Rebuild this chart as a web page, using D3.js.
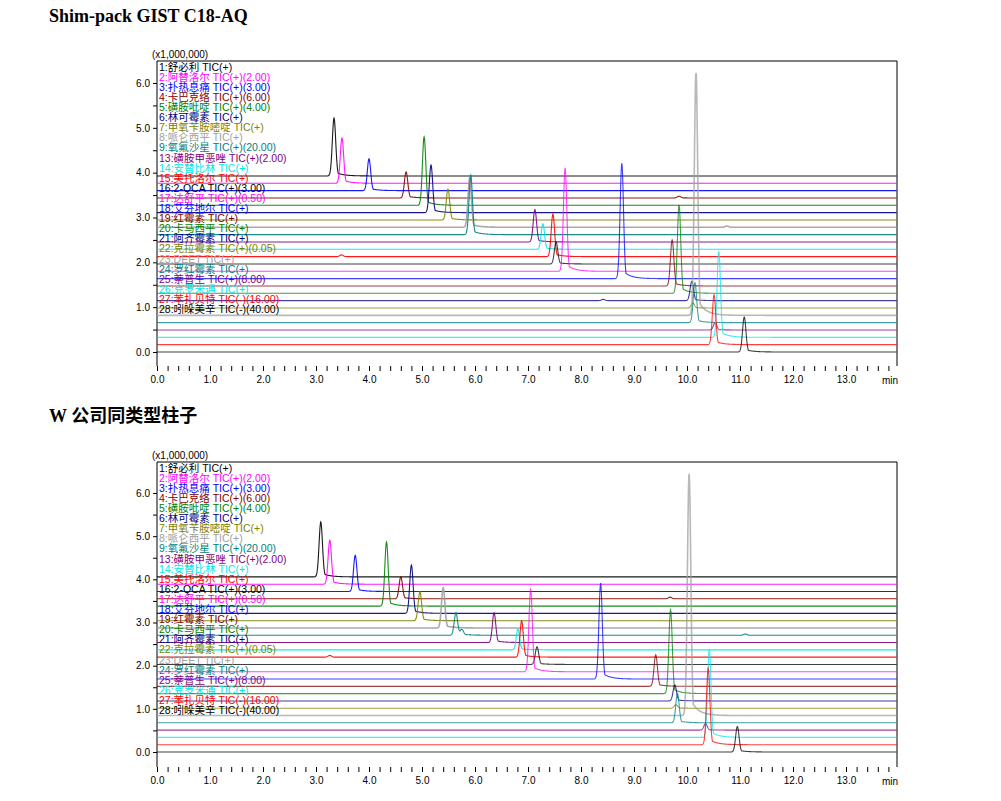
<!DOCTYPE html>
<html><head><meta charset="utf-8">
<script src="https://cdn.jsdelivr.net/npm/d3@7.9.0/dist/d3.min.js"></script>
<style>body{margin:0;background:#fff}svg{font-family:"Liberation Sans",Arial,sans-serif}</style>
</head><body><svg id="c" width="1001" height="801"></svg>
<script>
const labels = ["1:舒必利 TIC(+)","2:阿替洛尔 TIC(+)(2.00)","3:扑热息痛 TIC(+)(3.00)","4:卡巴克络 TIC(+)(6.00)",
  "5:磺胺吡啶 TIC(+)(4.00)","6:林可霉素 TIC(+)","7:甲氧苄胺嘧啶 TIC(+)","8:哌仑西平 TIC(+)",
  "9:氧氟沙星 TIC(+)(20.00)","13:磺胺甲恶唑 TIC(+)(2.00)","14:安替比林 TIC(+)","15:美托洛尔 TIC(+)",
  "16:2-QCA TIC(+)(3.00)","17:达舒平 TIC(+)(0.50)","18:艾芬地尔 TIC(+)","19:红霉素 TIC(+)",
  "20:卡马西平 TIC(+)","21:阿齐霉素 TIC(+)","22:克拉霉素 TIC(+)(0.05)","23:DEET TIC(+)",
  "24:罗红霉素 TIC(+)","25:萘普生 TIC(+)(8.00)","26:克罗米通 TIC(+)","27:苯扎贝特 TIC(-)(16.00)",
  "28:吲哚美辛 TIC(-)(40.00)"];
const colors = ["#000000","#ff00ff","#0000ff","#800000","#008000","#000080","#808000","#a0a0a0","#008080","#800080","#00e8e8","#ff0000"];

// peaks per trace: [retention time (min), height (x1,000,000)]
const peaksA = [
  [[3.34,1.29]],[[3.49,1.01]],[[4.00,0.71]],[[4.70,0.58],[9.85,0.04]],[[5.04,1.53]],[[5.17,1.06]],
  [[5.49,0.69]],[[5.90,1.10],[10.75,0.03]],[[5.92,1.33]],[[7.13,0.72]],[[7.28,0.57]],[[7.47,0.95],[3.48,0.04]],
  [[7.53,0.49]],[[7.70,2.30]],[[8.77,2.57]],[[9.72,1.03]],[[9.85,1.97]],[[10.09,0.43],[8.42,0.03]],
  [[10.11,0.11]],[[10.17,5.41]],[[10.15,0.89]],[[10.53,0.16]],[[10.60,1.92]],[[10.51,1.11]],[[11.08,0.78]]];
const peaksB = [
  [[3.09,1.27]],[[3.26,1.02]],[[3.74,0.84]],[[4.60,0.51],[9.68,0.04]],[[4.33,1.48]],[[4.80,1.12]],
  [[4.96,0.67]],[[5.40,0.93]],[[5.64,0.52],[5.75,0.12],[11.1,0.03]],[[6.36,0.69]],[[6.81,0.48]],[[6.88,0.84],[3.26,0.04]],
  [[7.17,0.41]],[[7.05,1.91]],[[8.37,2.22]],[[9.41,0.73]],[[9.69,1.94]],[[9.77,0.37]],
  [[9.79,0.08]],[[10.04,5.60]],[[9.82,0.68]],[[10.35,0.15]],[[10.42,2.04]],[[10.40,1.77]],[[10.95,0.59]]];
const offsetA = 0.1636, offsetB = 0.169;

const svg = d3.select("#c");

function profile(peaks, t) {
  let v = 0;
  for (const [t0, h] of peaks) {
    const s = 0.032;
    let g = h * Math.exp(-((t - t0) ** 2) / (2 * s * s));
    if (t > t0) g = Math.max(g, 0.08 * h * Math.exp(-(t - t0) / 0.14) * Math.min(1, (t - t0) / 0.03));
    v += g;
  }
  return v;
}

function panel(top, y0, y6, title, titleY, peaks, off) {
  const x = d3.scaleLinear().domain([0, 13]).range([157, 846]);
  const y = d3.scaleLinear().domain([0, 6]).range([y0, y6]);
  const bottom = top + 305, right = 897;
  const g = svg.append("g");

  g.append("text").attr("x", 49).attr("y", titleY).attr("font-family", "Liberation Serif, Noto Sans CJK SC")
    .attr("font-weight", "bold").attr("font-size", 18).text(title);

  g.append("path").attr("d", `M157,${bottom}V${top}H${right}V${bottom}`).attr("fill", "none").attr("stroke", "#000");

  const yAxis = d3.axisLeft(y).tickValues(d3.range(0, 6.01, 0.5)).tickSize(4)
    .tickFormat(d => d % 1 === 0 ? d.toFixed(1) : "");
  g.append("g").attr("transform", "translate(157,0)").call(yAxis)
    .call(a => a.select(".domain").remove())
    .call(a => a.selectAll("text").attr("font-size", 10).attr("fill", "#000"));
  g.append("text").attr("x", 152).attr("y", top - 3).attr("font-size", 10).text("(x1,000,000)");

  const xAxis = d3.axisBottom(x).tickValues(d3.range(0, 13.9, 0.2)).tickSize(5)
    .tickFormat(d => Math.abs(d - Math.round(d)) < 1e-6 ? d.toFixed(1) : "");
  g.append("g").attr("transform", `translate(0,${bottom})`).call(xAxis)
    .call(a => a.select(".domain").remove())
    .call(a => a.selectAll("text").attr("font-size", 10).attr("fill", "#000").attr("dy", "0.9em"));
  g.append("text").attr("x", 890).attr("y", bottom + 18).attr("font-size", 10).attr("text-anchor", "middle").text("min");

  const ts = d3.range(0, 13.96, 0.005);
  const line = d3.line().x(d => x(d[0])).y(d => y(d[1]));
  peaks.forEach((pk, i) => {
    const base = (peaks.length - 1 - i) * off;
    const pts = ts.map(t => [t, base + profile(pk, t)]);
    g.append("path").attr("d", line(pts)).attr("fill", "none")
      .attr("stroke", colors[i % 12]).attr("stroke-width", i % 12 === 7 ? 1.6 : 1.1)
      .attr("stroke-opacity", i >= 12 ? 0.75 : 0.9);
  });

  labels.forEach((l, i) => {
    g.append("text").attr("x", 159).attr("y", top + 6 + i * 10.1).attr("dy", "0.35em")
      .attr("font-size", 10.5).attr("font-family", "Liberation Sans, Noto Sans CJK SC")
      .attr("fill", colors[i % 12]).text(l);
  });
}

panel(61, 352, 83, "Shim-pack GIST C18-AQ", 22, peaksA, offsetA);
panel(462, 752, 493, "W 公司同类型柱子", 422, peaksB, offsetB);
</script></body></html>
